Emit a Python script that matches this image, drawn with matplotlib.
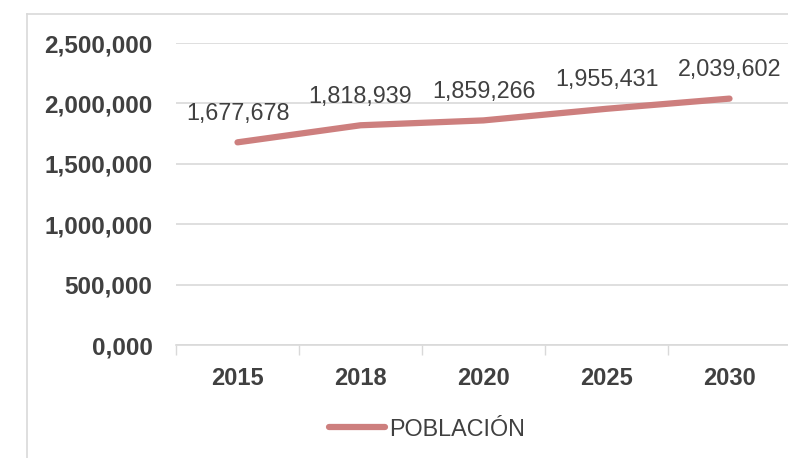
import matplotlib.pyplot as plt
from matplotlib.lines import Line2D

# datos de población
anios = ["2015", "2018", "2020", "2025", "2030"]
poblacion = [1677678, 1818939, 1859266, 1955431, 2039602]
etiquetas = ["1,677,678", "1,818,939", "1,859,266", "1,955,431", "2,039,602"]
ticks_y = [0, 500000, 1000000, 1500000, 2000000, 2500000]
ticks_y_txt = ["0,000", "500,000", "1,000,000", "1,500,000", "2,000,000", "2,500,000"]

plt.rcParams['font.family'] = ['Liberation Sans', 'DejaVu Sans']
gris = "#404040"
gris_claro = "#D9D9D9"
color_linea = "#CD7F7E"

fig = plt.figure(figsize=(7.88, 4.58), dpi=100)
ax = fig.add_axes([176 / 788, 113 / 458, 615 / 788, 302 / 458])

x = list(range(len(anios)))
ax.plot(x, poblacion, color=color_linea, lw=4.5, solid_capstyle='round',
        solid_joinstyle='round', label="POBLACIÓN", zorder=3)

for xi, v, t in zip(x, poblacion, etiquetas):
    ax.annotate(t, (xi, v), xytext=(0, 21), textcoords='offset points',
                ha='center', va='center', fontsize=16.8, color=gris)

ax.set_xlim(-0.5, len(anios) - 0.5)
ax.set_ylim(0, 2500000)
ax.set_yticks(ticks_y)
ax.set_yticklabels(ticks_y_txt)
ax.set_xticks(x)
ax.set_xticklabels(anios)
ax.set_xticks([i - 0.5 for i in range(len(anios) + 1)], minor=True)

ax.tick_params(axis='y', length=0, pad=17, labelsize=17.5, labelcolor=gris)
ax.tick_params(axis='x', which='major', length=0, pad=16, labelsize=17, labelcolor=gris)
ax.tick_params(axis='x', which='minor', length=7, width=1, color=gris_claro, direction='out')
for lab in ax.get_xticklabels() + ax.get_yticklabels():
    lab.set_fontweight('bold')

ax.grid(axis='y', color=gris_claro, lw=1.2)
ax.set_axisbelow(True)
for s in ['top', 'right', 'left']:
    ax.spines[s].set_visible(False)
ax.spines['bottom'].set_color(gris_claro)
ax.spines['bottom'].set_linewidth(1.2)

# marco del gráfico
fig.add_artist(Line2D([27 / 788, 27 / 788], [0, 1 - 14 / 458], color=gris_claro, lw=1.2))
fig.add_artist(Line2D([27 / 788, 1], [1 - 14 / 458, 1 - 14 / 458], color=gris_claro, lw=1.2))

fig.legend(loc='center', bbox_to_anchor=(427 / 788, 1 - 429 / 458), frameon=False,
           fontsize=16.8, handlelength=2.4, handletextpad=0.15, labelcolor=gris)

fig.savefig("out.png", dpi=100)
